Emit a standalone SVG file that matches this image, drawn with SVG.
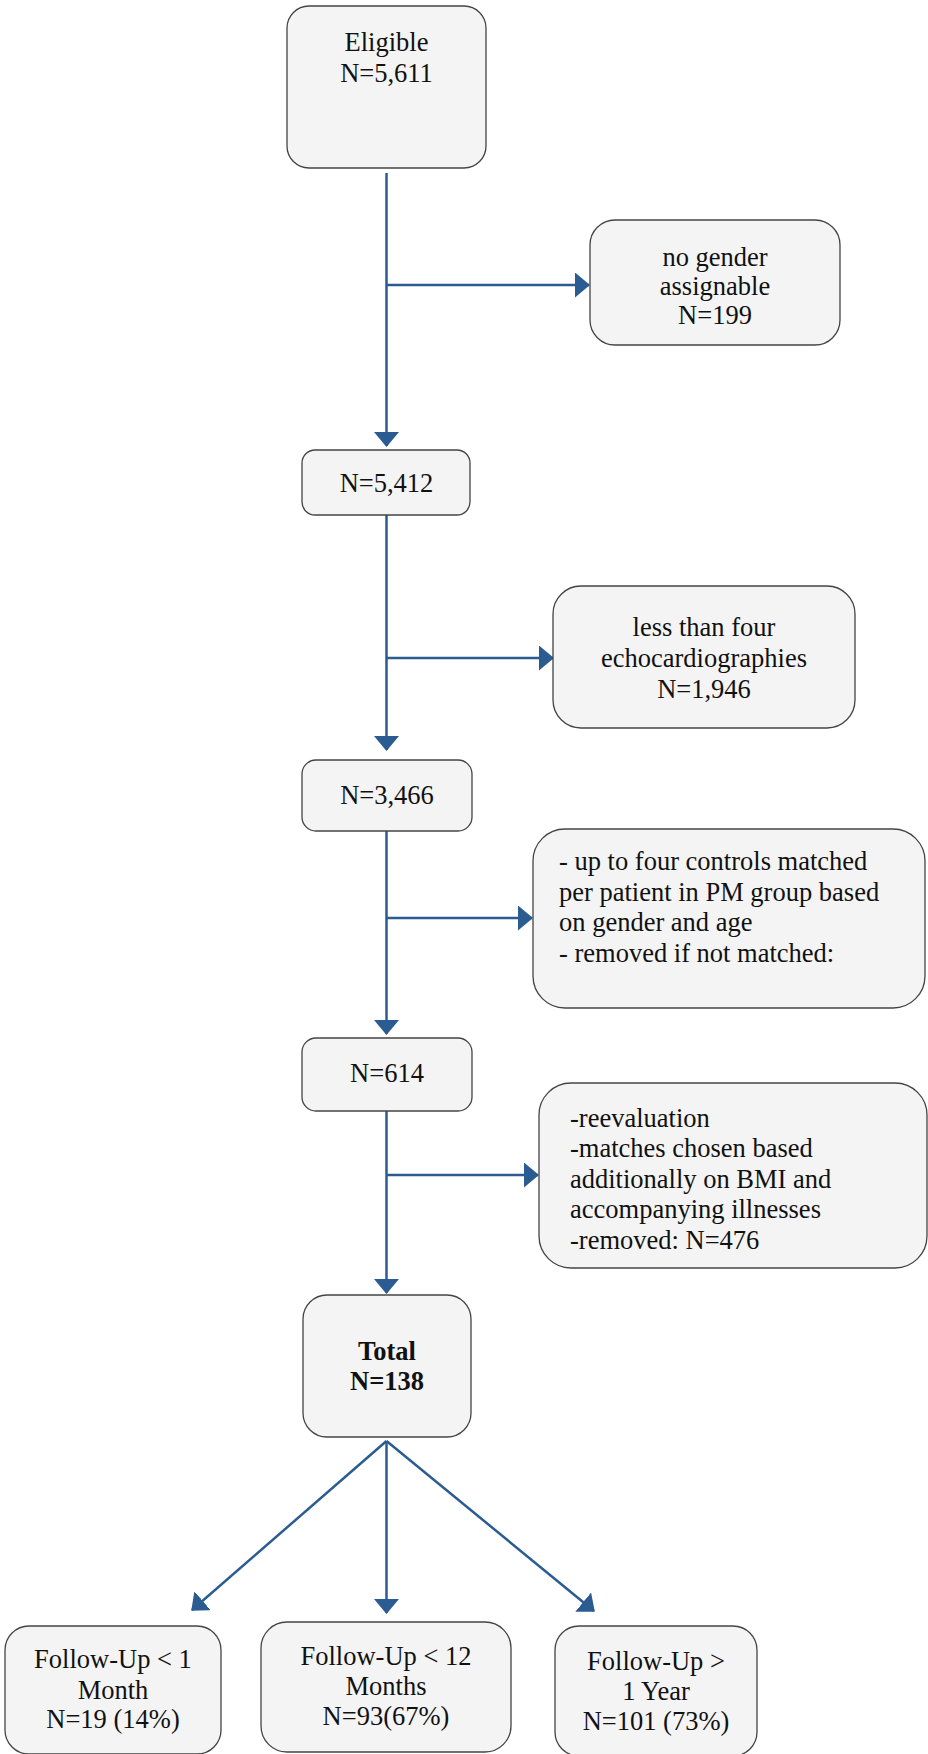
<svg xmlns="http://www.w3.org/2000/svg" width="928" height="1754" viewBox="0 0 928 1754">
<defs>
<marker id="ah" viewBox="0 0 15 25" refX="14" refY="12.5" markerWidth="15" markerHeight="25" markerUnits="userSpaceOnUse" orient="auto">
<path d="M0,0 L15,12.5 L0,25 z" fill="#2B5C91"/>
</marker>
<style>
.box{fill:#F4F4F4;stroke:#444;stroke-width:1.3}
.t{font-family:"Liberation Serif","Times New Roman",serif;font-size:26.5px;fill:#111}
.c{text-anchor:middle}
.b{font-weight:bold}
.con{stroke:#2B5C91;stroke-width:2.5;fill:none;marker-end:url(#ah)}
</style>
</defs>
<rect width="928" height="1754" fill="#fff"/>
<g id="connectors">
<line class="con" x1="386.5" y1="173" x2="386.5" y2="446"/>
<line class="con" x1="386.5" y1="285" x2="589" y2="285"/>
<line class="con" x1="386.5" y1="515" x2="386.5" y2="750"/>
<line class="con" x1="386.5" y1="658" x2="553" y2="658"/>
<line class="con" x1="386.5" y1="831" x2="386.5" y2="1034"/>
<line class="con" x1="386.5" y1="918" x2="532" y2="918"/>
<line class="con" x1="386.5" y1="1111" x2="386.5" y2="1293"/>
<line class="con" x1="386.5" y1="1175" x2="538" y2="1175"/>
<line class="con" x1="386.5" y1="1441" x2="192" y2="1610"/>
<line class="con" x1="386.5" y1="1441" x2="386.5" y2="1613"/>
<line class="con" x1="386.5" y1="1441" x2="594" y2="1611"/>
</g>
<g id="eligible">
<rect class="box" x="287" y="6" width="199" height="162" rx="22"/>
<text class="t c" x="386.5" y="51">Eligible</text>
<text class="t c" x="386.5" y="82">N=5,611</text>
</g>
<g id="nogender">
<rect class="box" x="590" y="220" width="250" height="125" rx="25"/>
<text class="t c" x="715" y="266">no gender</text>
<text class="t c" x="715" y="295">assignable</text>
<text class="t c" x="715" y="324">N=199</text>
</g>
<g id="n5412">
<rect class="box" x="302" y="450" width="168" height="65" rx="13"/>
<text class="t c" x="386.5" y="492">N=5,412</text>
</g>
<g id="lessfour">
<rect class="box" x="553" y="586" width="302" height="142" rx="28"/>
<text class="t c" x="704" y="636">less than four</text>
<text class="t c" x="704" y="667">echocardiographies</text>
<text class="t c" x="704" y="698">N=1,946</text>
</g>
<g id="n3466">
<rect class="box" x="302" y="760" width="170" height="71" rx="14"/>
<text class="t c" x="387" y="804">N=3,466</text>
</g>
<g id="matching">
<rect class="box" x="533" y="829" width="392" height="179" rx="32"/>
<text class="t" x="559" y="870">- up to four controls matched</text>
<text class="t" x="559" y="900.5">per patient in PM group based</text>
<text class="t" x="559" y="931">on gender and age</text>
<text class="t" x="559" y="961.5">- removed if not matched:</text>
</g>
<g id="n614">
<rect class="box" x="302" y="1038" width="170" height="73" rx="14"/>
<text class="t c" x="387" y="1082">N=614</text>
</g>
<g id="reevaluation">
<rect class="box" x="539" y="1083" width="388" height="185" rx="32"/>
<text class="t" x="570" y="1127">-reevaluation</text>
<text class="t" x="570" y="1157">-matches chosen based</text>
<text class="t" x="570" y="1187.5">additionally on BMI and</text>
<text class="t" x="570" y="1218">accompanying illnesses</text>
<text class="t" x="570" y="1248.5">-removed: N=476</text>
</g>
<g id="total">
<rect class="box" x="303" y="1295" width="168" height="142" rx="24"/>
<text class="t c b" x="387" y="1360">Total</text>
<text class="t c b" x="387" y="1390">N=138</text>
</g>
<g id="fu1">
<rect class="box" x="5" y="1626" width="216" height="128" rx="24"/>
<text class="t c" x="113" y="1668">Follow-Up &lt; 1</text>
<text class="t c" x="113" y="1699">Month</text>
<text class="t c" x="113" y="1728">N=19 (14%)</text>
</g>
<g id="fu12">
<rect class="box" x="261" y="1622" width="250" height="130" rx="26"/>
<text class="t c" x="386" y="1665">Follow-Up &lt; 12</text>
<text class="t c" x="386" y="1695">Months</text>
<text class="t c" x="386" y="1725">N=93(67%)</text>
</g>
<g id="fu1y">
<rect class="box" x="555" y="1626" width="202" height="130" rx="24"/>
<text class="t c" x="656" y="1670">Follow-Up &gt;</text>
<text class="t c" x="656" y="1700">1 Year</text>
<text class="t c" x="656" y="1730">N=101 (73%)</text>
</g>
</svg>
